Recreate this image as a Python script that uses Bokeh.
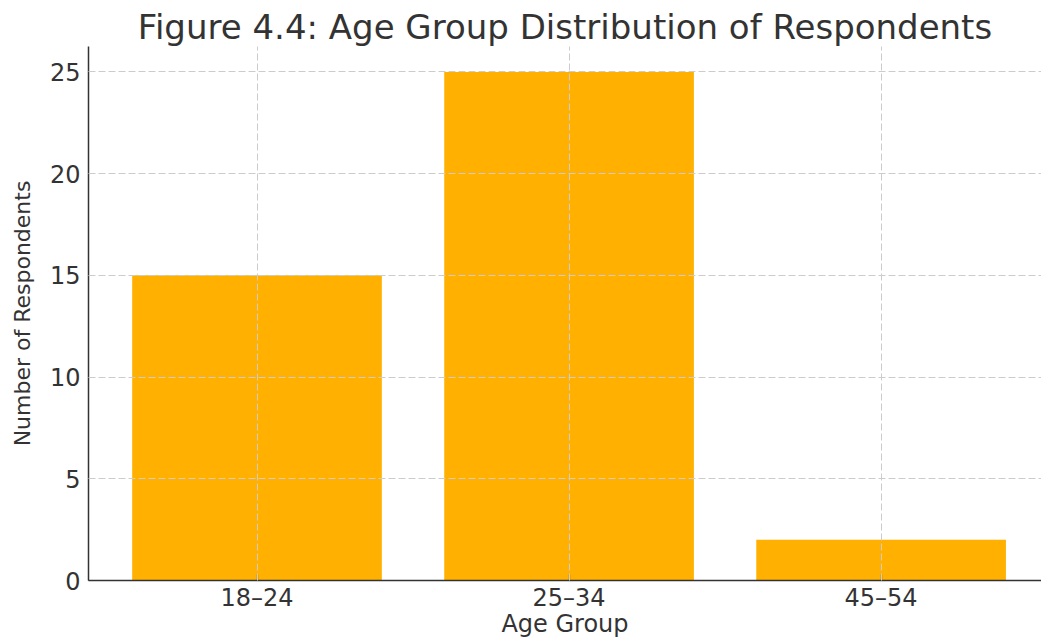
from bokeh.plotting import figure
from bokeh.models import Range1d, FixedTicker, ColumnDataSource
from bokeh.embed import file_html
from bokeh.resources import INLINE

# Survey data
age_groups = ["18–24", "25–34", "45–54"]
respondents = [15, 25, 2]
y_ticks = [0, 5, 10, 15, 20, 25]

positions = list(range(len(age_groups)))
source = ColumnDataSource(data=dict(x=positions, count=respondents, group=age_groups))

FONT = "DejaVu Sans"
TEXT = "#333333"

p = figure(
    width=1041, height=640,
    output_backend="svg", toolbar_location=None,
    x_range=Range1d(-0.54, 2.514),
    y_range=Range1d(0, max(respondents) * 1.05),
    min_border_left=88, min_border_right=0,
    min_border_top=46, min_border_bottom=59,
    title="Figure 4.4: Age Group Distribution of Respondents",
)

p.vbar(x="x", top="count", width=0.8, source=source,
       fill_color="#FFB000", line_color=None)

# Title
p.title.text_font = FONT
p.title.text_font_size = "34px"
p.title.text_font_style = "normal"
p.title.text_color = TEXT
p.title.align = "center"
p.title.offset = 3
p.title.standoff = 0

# Axes
for ax in (p.xaxis[0], p.yaxis[0]):
    ax.axis_line_color = TEXT
    ax.axis_line_width = 1.5
    ax.major_tick_line_color = TEXT
    ax.major_tick_line_width = 1.2
    ax.major_tick_in = 6
    ax.major_tick_out = 0
    ax.minor_tick_line_color = None
    ax.major_label_text_font = FONT
    ax.major_label_text_font_size = "24px"
    ax.major_label_text_color = TEXT
    ax.axis_label_text_font = FONT
    ax.axis_label_text_font_style = "normal"
    ax.axis_label_text_color = TEXT

p.xaxis.ticker = FixedTicker(ticks=positions)
p.xaxis.major_label_overrides = {i: g for i, g in zip(positions, age_groups)}
p.xaxis.axis_label = "Age Group"
p.xaxis.axis_label_text_font_size = "24px"
p.xaxis.major_label_standoff = 3
p.xaxis.axis_label_standoff = -5

p.yaxis.ticker = FixedTicker(ticks=y_ticks)
p.yaxis.axis_label = "Number of Respondents"
p.yaxis.axis_label_text_font_size = "22px"
p.yaxis.major_label_standoff = 8
p.yaxis.axis_label_standoff = 12

# Dashed grid drawn above the bars
for g in (p.xgrid[0], p.ygrid[0]):
    g.grid_line_color = "#cccccc"
    g.grid_line_dash = "7 3"
    g.grid_line_width = 1
    g.level = "overlay"
p.xgrid.ticker = FixedTicker(ticks=positions)
p.ygrid.ticker = FixedTicker(ticks=y_ticks)

p.outline_line_color = None
p.background_fill_color = "white"
p.border_fill_color = "white"

open("out.html", "w").write(file_html(p, INLINE))
